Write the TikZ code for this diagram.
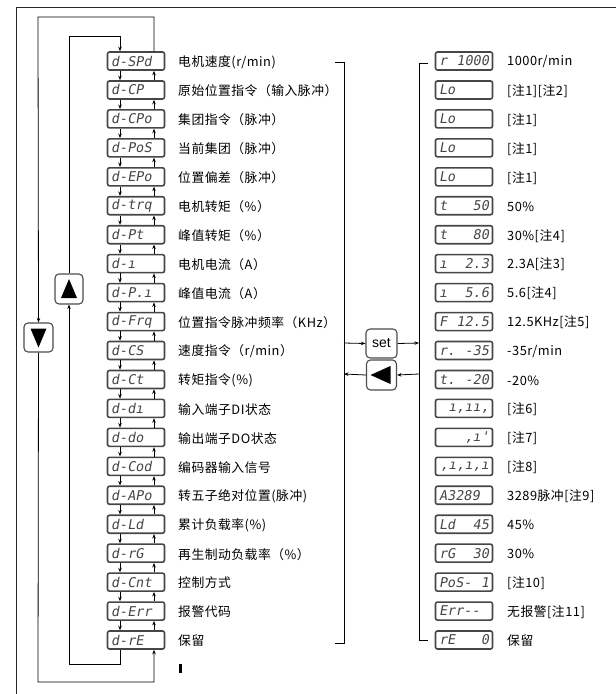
\documentclass[tikz,border=0pt]{standalone}
\usepackage{fontspec}
\setmainfont{Noto Sans CJK SC}
\newfontfamily\cjk{Noto Sans CJK SC}[LetterSpace=4]
\newfontfamily\segfont{DejaVu Sans Mono}[FakeSlant=0.18]
\newfontfamily\btnfont{Liberation Sans}
\usetikzlibrary{arrows.meta,calc}
\tikzset{
  lcd/.style={draw=gray!55!black, line width=1.6pt, rounded corners=2pt,
    minimum width=57pt, minimum height=18pt, inner sep=0pt,
    text=gray!55!black, font=\segfont\fontsize{13.5}{13.5}\selectfont},
  btn/.style={draw=gray!60!black, line width=1.1pt, rounded corners=4pt, fill=white,
    inner sep=0pt},
  lab/.style={anchor=west, inner sep=0pt, font=\cjk\fontsize{12.8}{12.8}\selectfont},
  arr/.style={-{Stealth[length=4.5pt,width=3.5pt]}, line width=0.8pt},
  ln/.style={line width=0.9pt}
}
\begin{document}
\begin{tikzpicture}[x=1pt,y=-1pt]
\useasboundingbox (0,0) rectangle (616,694);
% frame
\draw[line width=1pt, gray!30!black] (16,694) -- (16,7) -- (616,7);
% left displays
\foreach \c [count=\i from 0] in {d-SPd,d-CP,d-CPo,d-PoS,d-EPo,d-trq,d-Pt,d-ı,d-P.ı,d-Frq,d-CS,d-Ct,d-dı,d-do,d-Cod,d-APo,d-Ld,d-rG,d-Cnt,d-Err,d-rE}{
  \node[lcd] (L\i) at (136,{61+28.95*\i}) {\hbox to 50pt{\c\hfil}};
}
% left labels
\foreach \t [count=\i from 0] in {电机速度(r/min),原始位置指令（输入脉冲）,集团指令（脉冲）,当前集团（脉冲）,位置偏差（脉冲）,电机转矩（\%）,峰值转矩（\%）,电机电流（A）,峰值电流（A）,位置指令脉冲频率（KHz）,速度指令（r/min）,转矩指令(\%),输入端子DI状态,输出端子DO状态,编码器输入信号,转五子绝对位置(脉冲),累计负载率(\%),再生制动负载率（\%）,控制方式,报警代码,保留}{
  \node[lab] (T\i) at (178,{62+28.95*\i}) {\t};
}
% right displays
\foreach \c [count=\i from 0] in {{r\hfil 1000},{Lo\hfil},{Lo\hfil},{Lo\hfil},{Lo\hfil},{t\hfil 50},{t\hfil 80},{ı\hfil 2.3},{ı\hfil 5.6},{F\hfil 12.5},{r.\hfil -35},{t.\hfil -20},{\hfil ı,ıı,},{\hfil ,ı'},{\hfil ,ı,ı,ı},{A3289\hfil},{Ld\hfil 45},{rG\hfil 30},{PoS-\hfil 1},{Err--\hfil},{rE\hfil 0}}{
  \node[lcd] (R\i) at (464,{61+28.95*\i}) {\hbox to 50pt{\c}};
}
% right labels
\foreach \t [count=\i from 0] in {1000r/min,[注1][注2],[注1],[注1],[注1],50\%,30\%[注4],2.3A[注3],5.6[注4],12.5KHz[注5],-35r/min,-20\%,[注6],[注7],[注8],3289脉冲[注9],45\%,30\%,[注10],无报警[注11],保留}{
  \node[lab] (S\i) at (507,{62+28.95*\i}) {\t};
}
% small arrows between left displays
\foreach \i [count=\j from 1] in {0,...,19}{
  \draw[arr] ($(L\i.south)+(-16,0)$) -- ($(L\j.north)+(-16,0)$);
  \draw[arr] ($(L\j.north)+(18,0)$) -- ($(L\i.south)+(18,0)$);
}
% buttons
\node[btn, minimum width=28pt, minimum height=30pt] (up) at (69,289) {};
\fill ($(up.center)+(0,-10)$) -- ($(up.center)+(-8,9)$) -- ($(up.center)+(8,9)$) -- cycle;
\node[btn, minimum width=29pt, minimum height=29pt] (down) at (38.5,337.5) {};
\fill ($(down.center)+(0,10)$) -- ($(down.center)+(-8,-9)$) -- ($(down.center)+(8,-9)$) -- cycle;
\node[btn, minimum width=31pt, minimum height=29pt, font=\btnfont\fontsize{14}{14}\selectfont] (set) at (381.5,343.5) {set};
\node[btn, minimum width=30pt, minimum height=30pt] (back) at (381.5,375) {};
\fill ($(back.center)+(-11,0)$) -- ($(back.center)+(9,-9)$) -- ($(back.center)+(9,9)$) -- cycle;
% loops
\coordinate (iTop) at (69,36);
\coordinate (iBot) at (69,664);
\coordinate (oTop) at (38,17);
\coordinate (oBot) at (38,682);
\draw[arr] (up.north) -- (iTop) -| ($(L0.north)+(-16,0)$);
\draw[arr] ($(L20.south)+(-16,0)$) |- (iBot) -- (up.south);
\draw[arr] ($(L0.north)+(18,0)$) |- (oTop) -- (down.north);
\draw[arr] (down.south) -- (oBot) -| ($(L20.south)+(18,0)$);
% brackets
\coordinate (bLt) at (335,62); \coordinate (bLb) at (335,643);
\coordinate (bRt) at (428,63); \coordinate (bRb) at (428,640);
\draw[ln] (bLt) -- (344,62) -- (344,643) -- (bLb);
\draw[ln] (bRt) -- (419,63) -- (419,640) -- (bRb);
\coordinate (sIn) at (344,343); \coordinate (sOut) at (419,343);
\coordinate (bIn) at (419,374); \coordinate (bOut) at (344,374);
\draw[arr] (sIn) -- (set.west);
\draw[arr] (set.east) -- (sOut);
\draw[arr] (bIn) -- (back.east);
\draw[arr] (back.west) -- (bOut);
% small mark
\fill (179,664) rectangle (182,673);
\end{tikzpicture}
\end{document}
